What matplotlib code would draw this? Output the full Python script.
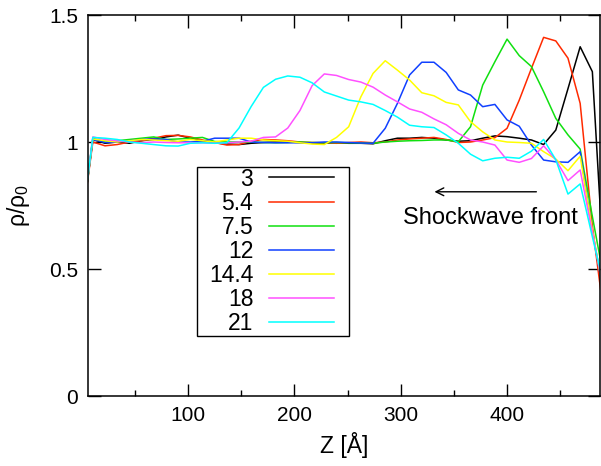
import numpy as np
import matplotlib
matplotlib.use('Agg')
import matplotlib.pyplot as plt
import matplotlib.transforms as mtransforms
from matplotlib.patches import Rectangle
from matplotlib.ticker import MultipleLocator

plt.rcParams['font.family'] = ['Liberation Sans', 'DejaVu Sans']
plt.rcParams['mathtext.default'] = 'regular'

# Z bin positions (Å)
z = [-0.9, 10.55, 22.0, 33.45, 44.9, 56.35, 67.8, 79.25, 90.7, 102.15, 113.6,
     125.05, 136.5, 147.95, 159.4, 170.85, 182.3, 193.75, 205.2, 216.65, 228.1,
     239.55, 251.0, 262.45, 273.9, 285.35, 296.8, 308.25, 319.7, 331.15, 342.6,
     354.05, 365.5, 376.95, 388.4, 399.85, 411.3, 422.75, 434.2, 445.65, 457.1,
     468.55, 480.0, 491.45]

labels = ['3', '5.4', '7.5', '12', '14.4', '18', '21']
colors = ['#000000', '#ff2a00', '#10e010', '#1040ff', '#ffff00', '#ff50ff', '#00ffff']

rho_3 = [0.64, 1.01, 0.995, 1.0, 0.995, 1.005, 1.01, 1.02, 1.027, 1.015, 1.005,
         0.997, 0.992, 0.99, 0.995, 0.998, 1.0, 1.0, 0.998, 0.995, 0.995,
         0.997, 0.995, 0.995, 0.993, 1.005, 1.015, 1.015, 1.018, 1.015, 1.008,
         1.003, 1.005, 1.015, 1.024, 1.021, 1.015, 1.008, 0.99, 1.047, 1.21,
         1.375, 1.277, 0.45]
rho_5_4 = [0.64, 1.0, 0.985, 0.99, 1.0, 1.005, 1.015, 1.025, 1.026, 1.02, 1.008,
           0.998, 0.988, 0.99, 1.003, 1.01, 1.008, 1.005, 1.0, 0.998, 0.997,
           0.995, 0.998, 1.0, 0.997, 1.0, 1.008, 1.012, 1.015, 1.018, 1.01,
           0.998, 1.0, 1.008, 1.017, 1.054, 1.165, 1.29, 1.412, 1.398, 1.33,
           1.152, 0.67, 0.3]
rho_7_5 = [0.64, 1.015, 1.0, 1.005, 1.01, 1.015, 1.02, 1.01, 1.012, 1.015, 1.018,
           1.002, 1.0, 1.0, 1.0, 0.998, 0.997, 0.998, 1.0, 0.998, 0.997,
           0.998, 0.997, 0.996, 0.995, 1.0, 1.003, 1.005, 1.006, 1.008, 1.008,
           1.001, 1.06, 1.224, 1.316, 1.405, 1.34, 1.297, 1.198, 1.093, 1.028,
           0.972, 0.707, 0.45]
rho_12 = [0.64, 1.01, 0.998, 1.0, 1.005, 1.01, 1.012, 1.01, 1.0, 1.0, 1.003,
          1.015, 1.015, 1.015, 1.0, 0.998, 0.997, 0.997, 0.997, 0.997, 1.0,
          1.0, 0.998, 0.996, 0.995, 1.054, 1.152, 1.264, 1.314, 1.314, 1.274,
          1.205, 1.185, 1.139, 1.148, 1.087, 1.062, 0.988, 0.929, 0.922, 0.92,
          0.962, 0.65, 0.38]
rho_14_4 = [0.64, 1.012, 1.005, 1.0, 1.005, 1.01, 1.008, 1.005, 1.003, 1.01, 1.005,
            1.0, 1.008, 1.015, 1.015, 1.008, 1.005, 1.003, 0.997, 0.992, 0.99,
            1.018, 1.06, 1.178, 1.27, 1.32, 1.283, 1.244, 1.194, 1.182, 1.156,
            1.146, 1.08, 1.04, 1.008, 1.0, 0.998, 0.995, 0.962, 0.933, 0.887,
            0.944, 0.654, 0.386]
rho_18 = [0.64, 1.02, 1.01, 1.005, 1.0, 0.997, 1.0, 0.998, 0.997, 0.997, 0.997,
          0.995, 0.997, 1.0, 1.003, 1.018, 1.02, 1.055, 1.124, 1.222, 1.268,
          1.262, 1.246, 1.236, 1.216, 1.185, 1.158, 1.13, 1.117, 1.091, 1.068,
          1.034, 1.008, 1.0, 0.988, 0.929, 0.92, 0.935, 0.985, 0.93, 0.848,
          0.89, 0.644, 0.40]
rho_21 = [0.64, 1.018, 1.015, 1.01, 1.0, 0.995, 0.99, 0.985, 0.984, 0.995, 0.997,
          0.995, 0.997, 1.055, 1.14, 1.215, 1.247, 1.26, 1.255, 1.233, 1.197,
          1.181, 1.165, 1.158, 1.148, 1.124, 1.098, 1.066, 1.06, 1.057, 1.028,
          0.995, 0.952, 0.926, 0.936, 0.94, 0.936, 0.964, 1.01, 0.93, 0.795,
          0.835, 0.627, 0.425]

series = [rho_3, rho_5_4, rho_7_5, rho_12, rho_14_4, rho_18, rho_21]

fig = plt.figure(figsize=(6.01, 4.66), dpi=100)
ax = fig.add_axes([0.1464, 0.1502, 0.8516, 0.8176])

for vals, lab, col in zip(series, labels, colors):
    ax.plot(z, vals, color=col, lw=1.1, label=lab)

ax.set_xlim(6, 487)
ax.set_ylim(0, 1.5)
ax.set_xticks([100, 200, 300, 400])
ax.xaxis.set_minor_locator(MultipleLocator(50))
ax.set_yticks([0, 0.5, 1, 1.5])
ax.set_yticklabels(['0', '0.5', '1', '1.5'])
ax.tick_params(which='both', direction='in', top=True, right=True, labelsize=15, width=1)
ax.tick_params(which='major', length=9, pad=7)
ax.tick_params(which='minor', length=4.5)
for sp in ax.spines.values():
    sp.set_linewidth(1.1)

ax.set_xlabel('Z [Å]', fontsize=16.5, labelpad=5)
ax.set_ylabel('ρ/ρ$_0$', fontsize=16.5, labelpad=12)

# arrow + text
ax.annotate('', xy=(329, 0.804), xytext=(430, 0.804),
            arrowprops=dict(arrowstyle='->', lw=1, color='black', mutation_scale=14))
ax.text(384, 0.70, 'Shockwave front', fontsize=17, ha='center', va='center')

# legend: labels on the left (right-aligned), samples on the right
leg = ax.legend(loc='upper left', bbox_to_anchor=(0.2363, 0.5997), borderaxespad=0,
                markerfirst=False, fontsize=16.5, handlelength=2.8, handletextpad=0.7,
                labelspacing=0.05, borderpad=0, frameon=False)
leg.set_zorder(6)

# frame around the legend, drawn by hand (wide side padding, thin top/bottom)
fig.canvas.draw()
bb = leg.get_window_extent(fig.canvas.get_renderer())
box = Rectangle((bb.x0 - 12, bb.y0 - 1), bb.width + 27, bb.height + 2,
                transform=mtransforms.IdentityTransform(), facecolor='white',
                edgecolor='black', lw=1.0, zorder=5)
ax.add_patch(box)

fig.savefig('out.png', dpi=100)
